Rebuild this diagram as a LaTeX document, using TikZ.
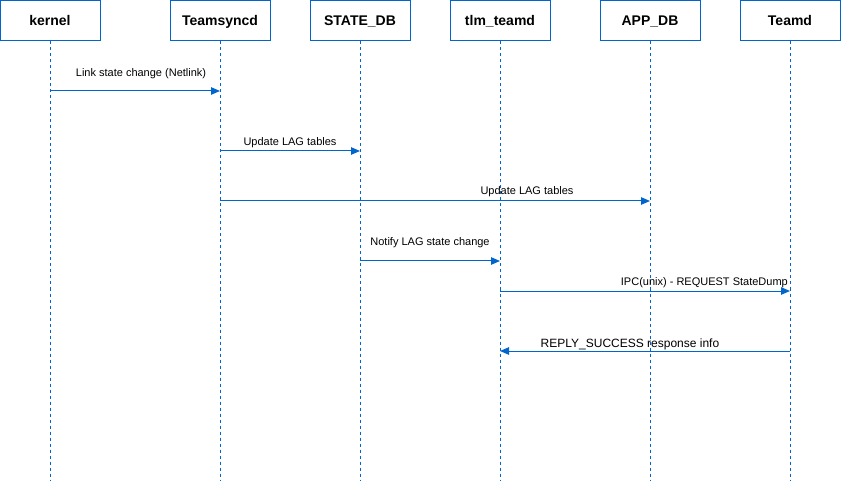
\documentclass[tikz,border=0pt]{standalone}
\usepackage{fontspec}
\setmainfont{Liberation Sans}
\usetikzlibrary{arrows.meta}
\definecolor{lineblue}{HTML}{0066CC}
\tikzset{
  actor/.style={draw=lineblue, line width=1pt, minimum width=100pt, minimum height=40pt, text height=11pt, text depth=2.5pt, font=\fontsize{14}{16}\selectfont\bfseries, anchor=north},
  lifeline/.style={draw=lineblue, line width=0.9pt, dash pattern=on 3pt off 3pt},
  msg/.style={draw=lineblue, line width=1pt, -{Triangle[length=9pt,width=7.5pt]}},
  msglabel/.style={font=\fontsize{11}{13}\selectfont, inner sep=0pt}
}
\begin{document}
\begin{tikzpicture}[x=1pt,y=-1pt]
  \useasboundingbox (0,0) rectangle (841,481);
  \node[actor] (kernel) at (50,0.5) {kernel};
  \node[actor] (teamsyncd) at (220,0.5) {Teamsyncd};
  \node[actor] (statedb) at (360,0.5) {STATE\_DB};
  \node[actor] (tlm) at (500,0.5) {tlm\_teamd};
  \node[actor] (appdb) at (650,0.5) {APP\_DB};
  \node[actor] (teamd) at (790,0.5) {Teamd};
  \foreach \n in {kernel,teamsyncd,statedb,tlm,appdb,teamd}
    \draw[lifeline] (\n.south) -- ++(0,441);
  \draw[msg] ([yshift=-49.5pt]kernel.south) -- ([yshift=-49.5pt]teamsyncd.south);
  \node[msglabel] (l1) at (141,73.5) {Link state change (Netlink)};
  \draw[msg] ([yshift=-109.5pt]teamsyncd.south) -- ([yshift=-109.5pt]statedb.south);
  \node[msglabel] (l2) at (290,142.5) {Update LAG tables};
  \draw[msg] ([yshift=-159.5pt]teamsyncd.south) -- ([yshift=-159.5pt]appdb.south);
  \node[msglabel] (l3) at (527,191.5) {Update LAG tables};
  \draw[msg] ([yshift=-219.5pt]statedb.south) -- ([yshift=-219.5pt]tlm.south);
  \node[msglabel] (l4) at (430,242.5) {Notify LAG state change};
  \draw[msg] ([yshift=-249.5pt]tlm.south) -- ([yshift=-249.5pt]teamd.south);
  \node[msglabel, anchor=east] (l5) at (788,282.5) {IPC(unix) - REQUEST StateDump};
  \draw[msg] ([yshift=-309.5pt]teamd.south) -- ([yshift=-309.5pt]tlm.south);
  \node[msglabel, font=\fontsize{12}{14}\selectfont] (l6) at (630,344) {REPLY\_SUCCESS response info};
\end{tikzpicture}
\end{document}
